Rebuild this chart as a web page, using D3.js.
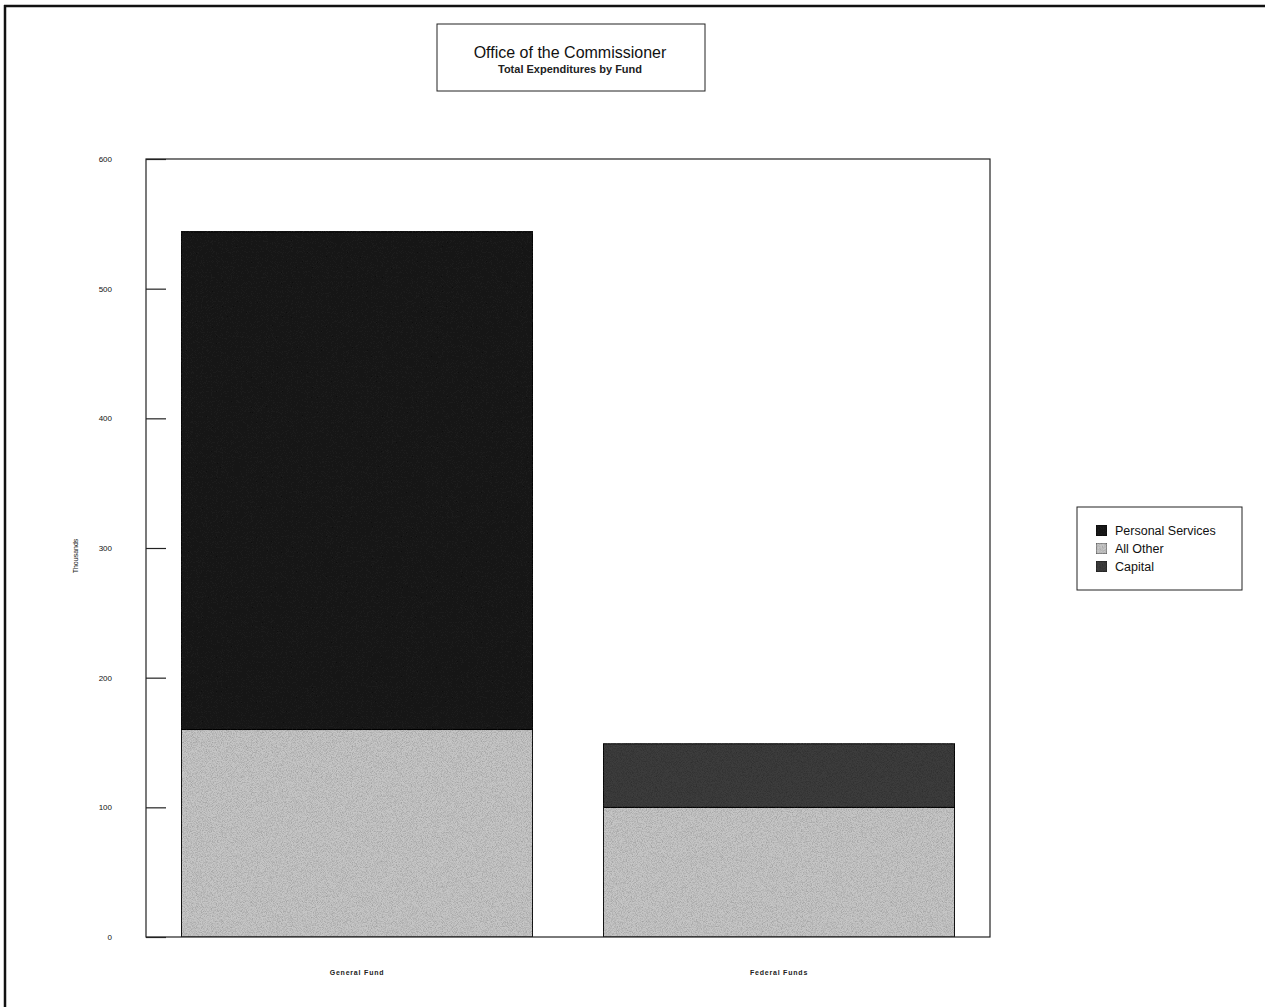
<!DOCTYPE html>
<html>
<head>
<meta charset="utf-8">
<script src="https://cdn.jsdelivr.net/npm/d3@7"></script>
<style>
  html, body { margin: 0; padding: 0; background: #fff; }
  svg { display: block; font-family: "Liberation Sans", Arial, sans-serif; }
</style>
</head>
<body>
<svg id="chart" width="1265" height="1007"></svg>
<script>
// ---- data ----
const categories = ["General Fund", "Federal Funds"];
const seriesNames = ["Personal Services", "All Other", "Capital"];
const personalServices = [384, 0];
const allOther = [160, 100];
const capital = [0, 49];
const yTicks = [0, 100, 200, 300, 400, 500, 600];
const stackOrder = ["All Other", "Personal Services", "Capital"];
const colors = { "Personal Services": "#1b1b1b", "All Other": "#c6c6c6", "Capital": "#3c3c3c" };

const svg = d3.select("#chart");

// page frame (top + left edge)
svg.append("line").attr("x1", 4).attr("x2", 1265).attr("y1", 6).attr("y2", 6)
  .attr("stroke", "#111").attr("stroke-width", 2.5);
svg.append("line").attr("x1", 5).attr("x2", 5).attr("y1", 5).attr("y2", 1007)
  .attr("stroke", "#111").attr("stroke-width", 2.5);

// noise filter to mimic dithered print
const defs = svg.append("defs");
const f = defs.append("filter").attr("id", "grain").attr("x", 0).attr("y", 0).attr("width", 1).attr("height", 1);
f.append("feTurbulence").attr("type", "fractalNoise").attr("baseFrequency", 1.2).attr("numOctaves", 1).attr("seed", 3).attr("result", "noise");
f.append("feColorMatrix").attr("in", "noise").attr("type", "matrix")
  .attr("values", "0 0 0 0 0  0 0 0 0 0  0 0 0 0 0  0 0 0 0.9 -0.35").attr("result", "dark");
f.append("feComposite").attr("in", "dark").attr("in2", "SourceGraphic").attr("operator", "in").attr("result", "darkIn");
f.append("feMerge").selectAll("feMergeNode").data(["SourceGraphic", "darkIn"]).join("feMergeNode").attr("in", d => d);

const x0 = 146, x1 = 990, yTop = 159, yBot = 937;
const x = d3.scaleBand().domain(categories).range([x0, x1]).paddingInner(0.168).paddingOuter(0.084);
const y = d3.scaleLinear().domain([0, 600]).range([yBot, yTop]);

// rows for stacking
const rows = categories.map((c, i) => ({
  cat: c,
  "Personal Services": personalServices[i],
  "All Other": allOther[i],
  "Capital": capital[i]
}));
const stacked = d3.stack().keys(stackOrder)(rows);

// bars
svg.append("g").selectAll("g").data(stacked).join("g")
  .attr("fill", d => colors[d.key])
  .selectAll("rect").data(d => d.filter(p => p[1] - p[0] > 0)).join("rect")
  .attr("x", d => x(d.data.cat))
  .attr("width", x.bandwidth())
  .attr("y", d => y(d[1]))
  .attr("height", d => y(d[0]) - y(d[1]))
  .attr("stroke", "#111").attr("stroke-width", 1)
  .attr("filter", "url(#grain)");

// plot frame
svg.append("rect").attr("x", x0).attr("y", yTop).attr("width", x1 - x0).attr("height", yBot - yTop)
  .attr("fill", "none").attr("stroke", "#222").attr("stroke-width", 1.2);

// y axis (ticks inward)
const yAxis = d3.axisRight(y).tickValues(yTicks).tickSize(20).tickFormat(d3.format("d"));
const ya = svg.append("g").attr("transform", `translate(${x0},0)`).call(yAxis);
ya.select(".domain").remove();
ya.selectAll(".tick line").attr("stroke", "#222").attr("stroke-width", 1.2);
ya.selectAll(".tick text")
  .attr("x", -34).attr("text-anchor", "end")
  .attr("font-size", 8).attr("font-family", "Liberation Sans, Arial, sans-serif").attr("fill", "#111");

// y axis title
svg.append("text").attr("transform", "translate(78,556) rotate(-90)")
  .attr("text-anchor", "middle").attr("font-size", 7).attr("fill", "#111").text("Thousands");

// x labels
const xa = svg.append("g").attr("transform", `translate(0,975)`)
  .call(d3.axisBottom(x).tickSize(0).tickPadding(0));
xa.select(".domain").remove();
xa.selectAll(".tick text").attr("font-size", 7).attr("letter-spacing", 0.8).attr("font-weight", "bold")
  .attr("font-family", "Liberation Sans, Arial, sans-serif").attr("fill", "#222").attr("dy", "0");

// title box
svg.append("rect").attr("x", 437).attr("y", 24).attr("width", 268).attr("height", 67)
  .attr("fill", "#fff").attr("stroke", "#222").attr("stroke-width", 1);
svg.append("text").attr("x", 570).attr("y", 58).attr("text-anchor", "middle")
  .attr("font-size", 16).attr("fill", "#111").text("Office of the Commissioner");
svg.append("text").attr("x", 570).attr("y", 73).attr("text-anchor", "middle")
  .attr("font-size", 11).attr("font-weight", "bold").attr("fill", "#222").text("Total Expenditures by Fund");

// legend
svg.append("rect").attr("x", 1077).attr("y", 507).attr("width", 165).attr("height", 83)
  .attr("fill", "#fff").attr("stroke", "#222").attr("stroke-width", 1);
const lg = svg.append("g").selectAll("g").data(seriesNames).join("g")
  .attr("transform", (d, i) => `translate(1096,${525 + i * 18})`);
lg.append("rect").attr("width", 11).attr("height", 11).attr("fill", d => colors[d])
  .attr("stroke", "#111").attr("stroke-width", 0.6).attr("filter", "url(#grain)");
lg.append("text").attr("x", 19).attr("y", 10).attr("font-size", 12.5).attr("fill", "#111").text(d => d);
</script>
</body>
</html>
